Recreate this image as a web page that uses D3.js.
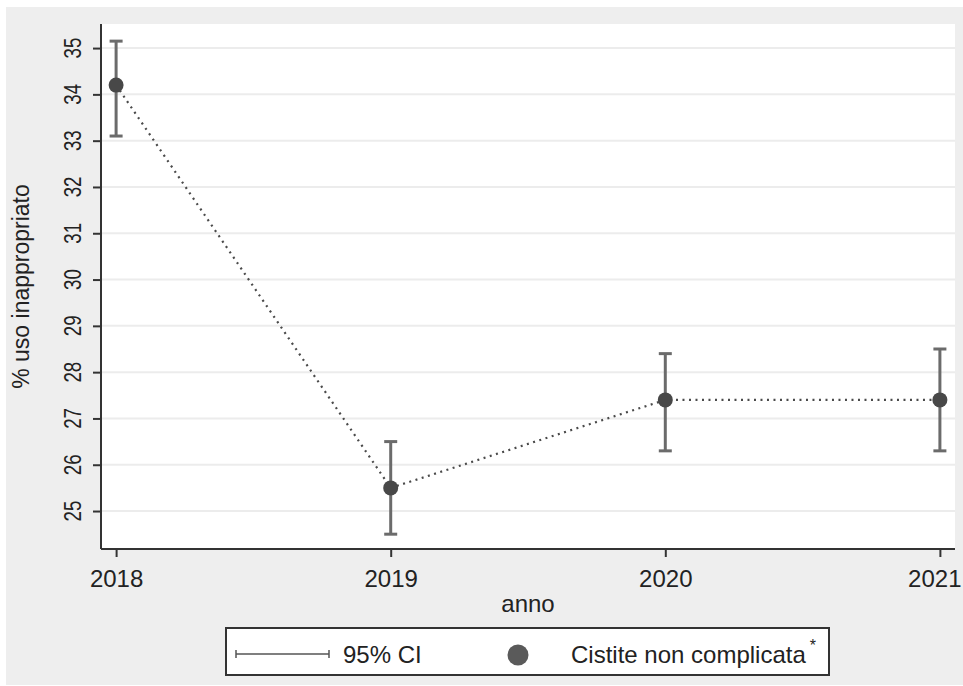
<!DOCTYPE html>
<html>
<head>
<meta charset="utf-8">
<script src="https://cdn.jsdelivr.net/npm/d3@7"></script>
<style>
  body { margin: 0; background: #fff; }
  text { font-family: "Liberation Sans", Arial, sans-serif; fill: #222; }
</style>
</head>
<body>
<div id="graph"></div>
<script>
var years = [2018, 2019, 2020, 2021]
var pct = [34.2, 25.5, 27.4, 27.4]
var ciLo = [33.1, 24.5, 26.3, 26.3]
var ciHi = [35.15, 26.5, 28.4, 28.5]
var yTicks = [25, 26, 27, 28, 29, 30, 31, 32, 33, 34, 35]
var legendLabels = ['95% CI', 'Cistite non complicata']

var data = years.map((d, i) => ({year: d, v: pct[i], lo: ciLo[i], hi: ciHi[i]}))

var W = 963, H = 686
var plot = {left: 101, right: 955, top: 24, bottom: 549}

var svg = d3.select('#graph').append('svg')
  .attr('width', W).attr('height', H)

// stata grey backdrop
svg.append('rect').attr('x', 6).attr('y', 7).attr('width', W - 6).attr('height', H - 8)
  .attr('fill', '#eeeeee')
svg.append('rect')
  .attr('x', plot.left).attr('y', plot.top)
  .attr('width', plot.right - plot.left).attr('height', plot.bottom - plot.top)
  .attr('fill', '#fff')

var x = d3.scaleLinear().domain([2017.945, 2021.055]).range([plot.left, plot.right])
var y = d3.scaleLinear().domain([24.18, 35.52]).range([plot.bottom, plot.top])

// gridlines
svg.append('g').selectAll('line').data(yTicks).join('line')
  .attr('x1', plot.left).attr('x2', plot.right)
  .attr('y1', d => y(d)).attr('y2', d => y(d))
  .attr('stroke', '#ececec').attr('stroke-width', 2)

// y axis
var yAxis = svg.append('g')
  .attr('transform', `translate(${plot.left},0)`)
  .call(d3.axisLeft(y).tickValues(yTicks).tickSize(8).tickFormat(''))
yAxis.select('.domain').attr('d', `M0,${plot.top}V${plot.bottom}`)
  .attr('stroke', '#333').attr('stroke-width', 2)
yAxis.selectAll('.tick line').attr('stroke', '#333').attr('stroke-width', 2)

svg.append('g').selectAll('text').data(yTicks).join('text')
  .attr('transform', d => `translate(81,${y(d)}) rotate(-90) scale(0.78,1)`)
  .attr('text-anchor', 'middle')
  .style('font-size', '24px')
  .text(d => d)

// x axis
var xAxis = svg.append('g')
  .attr('transform', `translate(0,${plot.bottom})`)
  .call(d3.axisBottom(x).tickValues(years).tickSize(8).tickFormat(d3.format('d')))
xAxis.select('.domain').attr('d', `M${plot.left},0H${plot.right}`)
  .attr('stroke', '#333').attr('stroke-width', 2)
xAxis.selectAll('.tick line').attr('stroke', '#333').attr('stroke-width', 2)
xAxis.selectAll('.tick text')
  .attr('y', 0).attr('dy', null)
  .attr('transform', 'translate(0,38)')
  .style('font-size', '24px').style('font-family', '"Liberation Sans", Arial, sans-serif')
  .attr('fill', '#222')
  .each(function(d) {
    // keep last label inside the picture
    var b = this.getBBox(), over = x(d) + b.width / 2 - (W - 2)
    if (over > 0) d3.select(this).attr('transform', `translate(${-over},38)`)
  })

svg.append('text')
  .attr('x', (plot.left + plot.right) / 2).attr('y', 612)
  .attr('text-anchor', 'middle')
  .style('font-size', '24px')
  .text('anno')

svg.append('text')
  .attr('transform', `translate(29,${(plot.top + plot.bottom) / 2}) rotate(-90)`)
  .attr('text-anchor', 'middle')
  .style('font-size', '23px')
  .text('% uso inappropriato')

// connecting dotted line
var line = d3.line().x(d => x(d.year)).y(d => y(d.v))
svg.append('path').attr('d', line(data))
  .attr('fill', 'none').attr('stroke', '#4a4a4a')
  .attr('stroke-width', 2.2).attr('stroke-dasharray', '2,4.5')

// error bars
var eb = svg.append('g').selectAll('g').data(data).join('g')
  .attr('stroke', '#6b6b6b').attr('stroke-width', 3)
eb.append('line')
  .attr('x1', d => x(d.year)).attr('x2', d => x(d.year))
  .attr('y1', d => y(d.lo)).attr('y2', d => y(d.hi))
eb.append('line')
  .attr('x1', d => x(d.year) - 6.5).attr('x2', d => x(d.year) + 6.5)
  .attr('y1', d => y(d.lo)).attr('y2', d => y(d.lo))
eb.append('line')
  .attr('x1', d => x(d.year) - 6.5).attr('x2', d => x(d.year) + 6.5)
  .attr('y1', d => y(d.hi)).attr('y2', d => y(d.hi))

svg.append('g').selectAll('circle').data(data).join('circle')
  .attr('cx', d => x(d.year)).attr('cy', d => y(d.v)).attr('r', 7.5)
  .attr('fill', '#484848')

// legend
var lg = svg.append('g')
lg.append('rect').attr('x', 226).attr('y', 628).attr('width', 603).attr('height', 47)
  .attr('fill', '#fff').attr('stroke', '#333').attr('stroke-width', 2)
lg.append('line').attr('x1', 236).attr('x2', 329).attr('y1', 654).attr('y2', 654)
  .attr('stroke', '#555').attr('stroke-width', 1.5)
;[236, 329].forEach(cx => lg.append('line')
  .attr('x1', cx).attr('x2', cx).attr('y1', 650).attr('y2', 658)
  .attr('stroke', '#555').attr('stroke-width', 1.5))
lg.append('text').attr('x', 343).attr('y', 663).style('font-size', '24px').text(legendLabels[0])
lg.append('circle').attr('cx', 518).attr('cy', 655).attr('r', 10.5).attr('fill', '#5a5a5a')
var t = lg.append('text').attr('x', 571).attr('y', 663).style('font-size', '24px')
t.append('tspan').text(legendLabels[1])
t.append('tspan').attr('dx', 4).attr('dy', -12).style('font-size', '16px').text('*')
</script>
</body>
</html>
